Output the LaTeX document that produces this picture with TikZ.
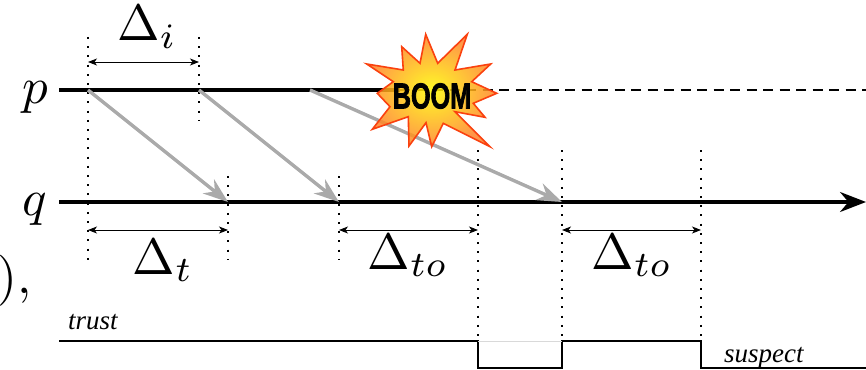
\documentclass[tikz,border=0pt]{standalone}
\usepackage{amsmath,amssymb}
\usepackage{fontspec}
\usepackage{xcolor}
\usetikzlibrary{arrows.meta,positioning}
\newfontfamily\boomfont[FakeBold=2.5]{Liberation Sans Bold}
\newfontfamily\signalfont{Liberation Serif}
\definecolor{arrowgray}{RGB}{170,170,170}
\definecolor{starred}{RGB}{250,65,15}
\definecolor{starouter}{RGB}{255,130,40}
\tikzset{
  procline/.style={line width=3.2pt},
  msgarrow/.style={arrowgray,line width=3.4pt,-{Stealth[length=25pt,width=18pt]}},
  tickline/.style={line width=1.9pt,dash pattern=on 2pt off 7.2pt},
  dimline/.style={line width=0.9pt,{Stealth[length=9pt,width=7pt,inset=2.5pt]}-{Stealth[length=9pt,width=7pt,inset=2.5pt]}},
  biglabel/.style={scale=5.1},
  smalllabel/.style={font=\fontsize{27}{27}\signalfont\itshape},
  signal/.style={line width=1.7pt,line join=miter}
}
\begin{document}
\begin{tikzpicture}[x=1pt,y=-1pt]
  \useasboundingbox (0,0) rectangle (866,369);
  % Time lines of p and q
  \coordinate (pstart) at (59,90);
  \coordinate (pcrash) at (400,90);
  \coordinate (pend) at (866,90);
  \coordinate (qstart) at (59,202);
  \coordinate (qend) at (866,202);
  \node[biglabel,anchor=base] (plabel) at (35,103) {$p$};
  \node[biglabel,anchor=base] (qlabel) at (35,215) {$q$};
  \draw[procline] (pstart) -- (pcrash);
  \draw[line width=1.4pt,dash pattern=on 10pt off 6.5pt] (pcrash) -- (pend);
  \draw[procline,-{Stealth[length=26pt,width=20pt]}] (qstart) -- (qend);
  % Sends on p, receives on q
  \foreach \name/\x in {s1/88,s2/199,s3/310}{
    \coordinate (\name) at (\x,90);
  }
  \foreach \name/\x in {r1/228,r2/339,r3/562,to1/478,to2/701}{
    \coordinate (\name) at (\x,202);
  }
  % Dotted ticks: name/x/top/bottom
  \foreach \name/\x/\ytop/\ybot in {
    s1/88/37/260, s2/199/37/120, r1/228/176/260, r2/339/176/260,
    to1/478/150/340, r3/562/150/340, to2/701/150/340}{
    \coordinate (\name top) at (\x,\ytop);
    \coordinate (\name bot) at (\x,\ybot);
    \draw[tickline] (\name top) -- (\name bot);
  }
  % Heartbeats
  \draw[msgarrow] (s1) -- (r1);
  \draw[msgarrow] (s2) -- (r2);
  \draw[msgarrow] (s3) -- (r3);
  % Crash
  \shade[inner color=yellow!95!orange,outer color=starouter,fill opacity=0.85,draw=starred,line width=1.6pt,line join=miter]
    (425.7,34.3) -- (437.7,63.3) -- (467.3,34.3) -- (455,70) -- (490.7,64) -- (471.7,81.7)
    -- (496.7,93.3) -- (473.3,103.3) -- (485,117.3) -- (455,111.7) -- (490,146.7)
    -- (443.3,123.3) -- (431.7,146.7) -- (426,122.7) -- (409,146) -- (408.3,116.7)
    -- (372.3,129.3) -- (390,106.7) -- (377.3,93.3) -- (393.3,81.7) -- (366.7,64)
    -- (403.3,70) -- (401.7,46.7) -- (420,63.3) -- cycle;
  \node[inner sep=0pt,xscale=0.70,font=\fontsize{36}{36}\boomfont] (boom) at (432,96) {BOOM};
  % Intervals
  \coordinate (di1) at (88,62);
  \coordinate (di2) at (199,62);
  \coordinate (dt1) at (88,230);
  \coordinate (dt2) at (228,230);
  \coordinate (da1) at (339,230);
  \coordinate (da2) at (478,230);
  \coordinate (db1) at (562,230);
  \coordinate (db2) at (701,230);
  \draw[dimline] (di1) -- (di2);
  \draw[dimline] (dt1) -- (dt2);
  \draw[dimline] (da1) -- (da2);
  \draw[dimline] (db1) -- (db2);
  \node[biglabel,anchor=base] (deltai) at (147,41) {$\Delta_i$};
  \node[biglabel,anchor=base] (deltat) at (163,274) {$\Delta_t$};
  \node[biglabel,anchor=base] (deltaa) at (408,269) {$\Delta_{to}$};
  \node[biglabel,anchor=base] (deltab) at (632,269) {$\Delta_{to}$};
  % Output of the detector
  \coordinate (sigstart) at (59,341);
  \coordinate (fall1) at (478,341);
  \coordinate (low1) at (478,368);
  \coordinate (low2) at (562,368);
  \coordinate (rise1) at (562,341);
  \coordinate (fall2) at (701,341);
  \coordinate (low3) at (701,368);
  \coordinate (sigend) at (866,368);
  \draw[signal] (sigstart) -- (fall1) -- (low1) -- (low2) -- (rise1) -- (fall2) -- (low3) -- (sigend);
  \draw[gray!30,line width=0.8pt] (fall1) -- (rise1);
  \node[smalllabel,anchor=base west,inner sep=0pt] (trustlabel) at (68,329) {trust};
  \node[smalllabel,anchor=base west,inner sep=0pt] (suspectlabel) at (724,362) {suspect};
  % Cut off piece of the text on the left
  \begin{scope}
    \clip (0,0) rectangle (866,369);
    \node[biglabel,anchor=base east,inner sep=0pt] (cutoff) at (33,293) {$),$};
  \end{scope}
\end{tikzpicture}
\end{document}
